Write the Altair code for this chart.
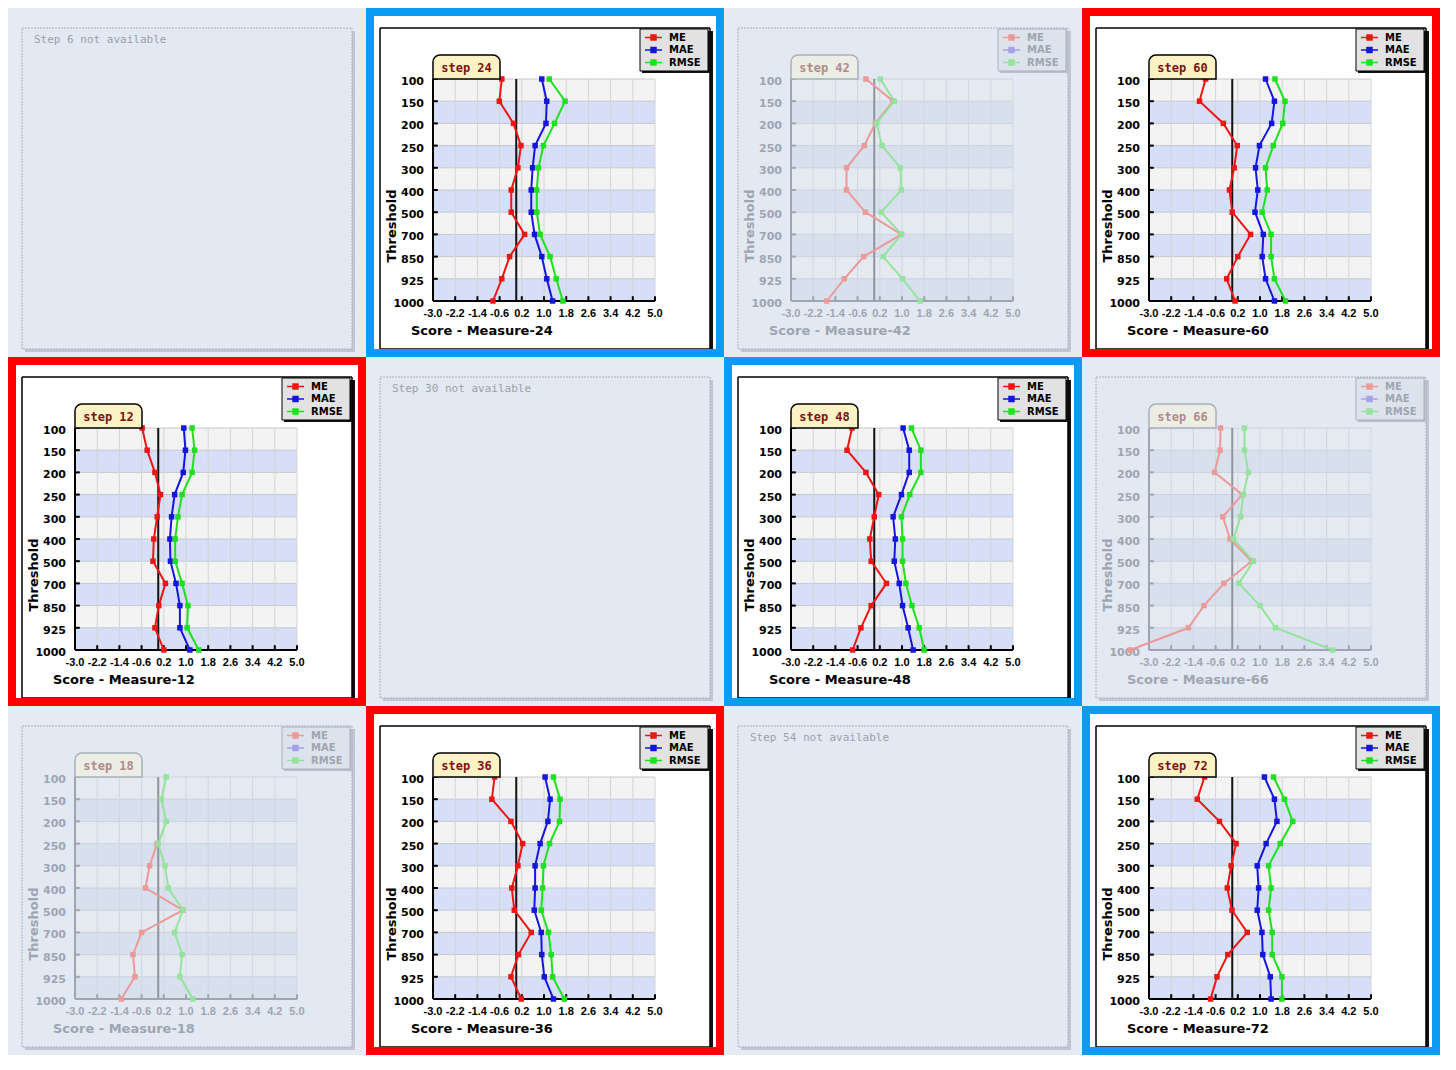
import altair as alt
import pandas as pd

# ---------------- data ----------------
THRESHOLDS = ["100", "150", "200", "250", "300", "400", "500", "700", "850", "925", "1000"]
X_TICKS = [-3.0, -2.2, -1.4, -0.6, 0.2, 1.0, 1.8, 2.6, 3.4, 4.2, 5.0]
X_DOMAIN = [-3.0, 5.0]
MEASURES = ["ME", "MAE", "RMSE"]

ME_12 = [-0.58, -0.40, -0.12, 0.08, -0.04, -0.16, -0.19, 0.26, 0.02, -0.12, 0.20]
MAE_12 = [0.92, 0.98, 0.90, 0.59, 0.48, 0.42, 0.44, 0.64, 0.78, 0.78, 1.14]
RMSE_12 = [1.22, 1.31, 1.22, 0.86, 0.71, 0.61, 0.61, 0.86, 1.07, 1.04, 1.46]

ME_18 = [None, None, None, -0.04, -0.31, -0.46, 0.89, -0.60, -0.91, -0.84, -1.33]
RMSE_18 = [0.29, 0.11, 0.29, 0.00, 0.24, 0.36, 0.89, 0.59, 0.86, 0.78, 1.25]

ME_24 = [-0.52, -0.61, -0.10, 0.17, 0.06, -0.18, -0.18, 0.30, -0.24, -0.52, -0.84]
MAE_24 = [0.92, 1.10, 1.07, 0.68, 0.59, 0.54, 0.54, 0.66, 0.92, 1.10, 1.31]
RMSE_24 = [1.19, 1.76, 1.38, 0.98, 0.80, 0.74, 0.74, 0.86, 1.22, 1.44, 1.68]

ME_36 = [-0.78, -0.88, -0.19, 0.23, 0.06, -0.16, -0.07, 0.54, 0.08, -0.19, 0.18]
MAE_36 = [1.04, 1.22, 1.14, 0.86, 0.68, 0.68, 0.65, 0.90, 0.92, 1.01, 1.34]
RMSE_36 = [1.34, 1.58, 1.56, 1.20, 0.98, 0.95, 0.90, 1.16, 1.26, 1.31, 1.73]

ME_42 = [-0.30, 0.68, 0.04, -0.36, -1.00, -1.00, -0.32, 0.98, -0.38, -1.08, -1.71]
RMSE_42 = [0.22, 0.72, 0.08, 0.28, 0.94, 0.98, 0.25, 0.98, 0.32, 1.02, 1.65]

ME_48 = [-0.80, -0.98, -0.30, 0.16, 0.00, -0.16, -0.11, 0.44, -0.11, -0.48, -0.78]
MAE_48 = [1.04, 1.26, 1.26, 0.98, 0.68, 0.76, 0.72, 0.90, 1.02, 1.22, 1.40]
RMSE_48 = [1.34, 1.68, 1.68, 1.28, 0.98, 1.02, 1.02, 1.14, 1.36, 1.62, 1.80]

ME_60 = [-0.96, -1.18, -0.32, 0.18, 0.07, -0.10, 0.00, 0.66, 0.20, -0.20, 0.10]
MAE_60 = [1.20, 1.52, 1.42, 0.98, 0.84, 0.92, 0.82, 1.12, 1.08, 1.20, 1.52]
RMSE_60 = [1.54, 1.90, 1.82, 1.48, 1.20, 1.26, 1.08, 1.40, 1.40, 1.52, 1.92]

ME_66 = [-0.42, -0.44, -0.64, 0.36, -0.34, -0.08, 0.70, -0.30, -1.02, -1.58, -3.68]
RMSE_66 = [0.44, 0.44, 0.58, 0.40, 0.30, 0.04, 0.76, 0.24, 1.00, 1.56, 3.62]

ME_72 = [-1.00, -1.26, -0.46, 0.14, -0.04, -0.18, -0.01, 0.54, -0.16, -0.55, -0.78]
MAE_72 = [1.16, 1.52, 1.61, 1.22, 0.90, 0.95, 0.90, 1.07, 1.10, 1.37, 1.40]
RMSE_72 = [1.49, 1.88, 2.18, 1.73, 1.31, 1.40, 1.31, 1.44, 1.44, 1.79, 1.79]

SERIES = {
    12: (ME_12, MAE_12, RMSE_12),
    18: (ME_18, None, RMSE_18),
    24: (ME_24, MAE_24, RMSE_24),
    36: (ME_36, MAE_36, RMSE_36),
    42: (ME_42, None, RMSE_42),
    48: (ME_48, MAE_48, RMSE_48),
    60: (ME_60, MAE_60, RMSE_60),
    66: (ME_66, None, RMSE_66),
    72: (ME_72, MAE_72, RMSE_72),
}

BLUE = "#0a9bf5"
RED = "#ff0000"
# (step, state, frame colour) in reading order, 4 per row
LAYOUT = [
    (6, "na", None), (24, "on", BLUE), (42, "faded", None), (60, "on", RED),
    (12, "on", RED), (30, "na", None), (48, "on", BLUE), (66, "faded", None),
    (18, "faded", None), (36, "on", RED), (54, "na", None), (72, "on", BLUE),
]

# ---------------- geometry / style ----------------
W, H = 358, 349
CX0, CY0, CX1, CY1 = 14, 20, 344, 341
XR = [CX0 + 53, CX0 + 275]
YR = [CY0 + 51, CY0 + 273]
FONT = "DejaVu Sans"
NARROW = "Liberation Sans"
MONO = "DejaVu Sans Mono"
ONE = pd.DataFrame({"k": [0]})

ON = dict(cell="#ffffff", card="#ffffff", card_stroke="#000000", shadow="#111111",
          ink="#000000", tab_fill="#fdf2c4", tab_stroke="#000000", tab_text="#7a1212",
          bands=["#f3f3f3", "#d6dff7"], edge="#c4c8d0", grid="#d2d4d8", zero="#111111",
          colors=["#ee1515", "#1515dd", "#1ee01e"], leg_fill="#e2e2e2", leg_stroke="#000000",
          leg_shadow="#111111", dash=[1, 0])
FADED = dict(cell="#e5ebf4", card="#e3e9f3", card_stroke="#a9b0bb", shadow="#c0c7d2",
             ink="#9ea5b0", tab_fill="#eceee6", tab_stroke="#a9b0bb", tab_text="#b08a8a",
             bands=["#e5e9f0", "#d8e0ee"], edge="#cbd2dd", grid="#d0d7e2", zero="#8f949c",
             colors=["#eb9a9a", "#a3a3ec", "#95e39e"], leg_fill="#dde3ec", leg_stroke="#a9b0bb",
             leg_shadow="#b9c0cb", dash=[2, 1])


def rect_px(x0, y0, x1, y1, **kw):
    return alt.Chart(ONE).mark_rect(**kw).encode(
        x=alt.value(x0), x2=alt.value(x1), y=alt.value(y0), y2=alt.value(y1))


def text_px(x, y, s, **kw):
    return alt.Chart(ONE).mark_text(text=s, **kw).encode(x=alt.value(x), y=alt.value(y))


def legend_layers(th):
    lx0, ly0 = CX1 - 70, CY0 + 1
    out = [rect_px(lx0 + 2, ly0 + 2, lx0 + 70, ly0 + 44, fill=th["leg_shadow"], strokeWidth=0),
           rect_px(lx0, ly0, lx0 + 68, ly0 + 42, fill=th["leg_fill"],
                   stroke=th["leg_stroke"], strokeWidth=1)]
    for i, (name, col) in enumerate(zip(MEASURES, th["colors"])):
        yy = ly0 + 8.5 + i * 12.5
        out.append(alt.Chart(ONE).mark_rule(color=col, strokeWidth=1.5).encode(
            x=alt.value(lx0 + 5), x2=alt.value(lx0 + 22), y=alt.value(yy)))
        out.append(alt.Chart(ONE).mark_square(color=col, size=42, opacity=1).encode(
            x=alt.value(lx0 + 13.5), y=alt.value(yy)))
        out.append(text_px(lx0 + 29, yy, name, font=FONT, fontSize=10, fontWeight="bold",
                           color=th["ink"], align="left", baseline="middle"))
    return out


def data_layers(step, th):
    me, mae, rmse = SERIES[step]
    rows = []
    for name, vals in zip(MEASURES, (me, mae, rmse)):
        if vals is None:
            continue
        for i, (t, v) in enumerate(zip(THRESHOLDS, vals)):
            if v is None:
                continue
            rows.append({"measure": name, "threshold": t, "idx": i, "value": v})
    df = pd.DataFrame(rows)
    ink = th["ink"]

    xs = alt.Scale(domain=X_DOMAIN, range=XR, nice=False, zero=False)
    ys = alt.Scale(type="point", domain=THRESHOLDS, range=YR, padding=0)
    cs = alt.Scale(domain=MEASURES, range=th["colors"])

    def X(f):
        return alt.X(f, scale=xs, axis=None)

    def Y(f):
        return alt.Y(f, scale=ys, axis=None, sort=THRESHOLDS)

    bands = pd.DataFrame({
        "top": THRESHOLDS[:-1], "bot": THRESHOLDS[1:],
        "fill": [th["bands"][i % 2] for i in range(len(THRESHOLDS) - 1)],
        "x0": X_DOMAIN[0], "x1": X_DOMAIN[1]})
    band_layer = alt.Chart(bands).mark_rect(strokeWidth=0).encode(
        x=X("x0:Q"), x2="x1", y=Y("top:O"), y2="bot",
        fill=alt.Fill("fill:N", scale=None))

    edges = pd.DataFrame({"t": THRESHOLDS, "x0": X_DOMAIN[0], "x1": X_DOMAIN[1]})
    edge_layer = alt.Chart(edges).mark_rule(color=th["edge"], strokeWidth=1).encode(
        x=X("x0:Q"), x2="x1", y=Y("t:O"))

    gx = pd.DataFrame({"x": X_TICKS, "y0": THRESHOLDS[0], "y1": THRESHOLDS[-1]})
    grid_layer = alt.Chart(gx).mark_rule(color=th["grid"], strokeWidth=1).encode(
        x=X("x:Q"), y=Y("y0:O"), y2="y1")

    zero = pd.DataFrame({"x": [0.0], "y0": [THRESHOLDS[0]], "y1": [THRESHOLDS[-1]]})
    zero_layer = alt.Chart(zero).mark_rule(color=th["zero"], strokeWidth=2).encode(
        x=X("x:Q"), y=Y("y0:O"), y2="y1")

    # axis lines (domain)
    xdom = pd.DataFrame({"x0": [X_DOMAIN[0]], "x1": [X_DOMAIN[1]], "y": [THRESHOLDS[-1]]})
    xdom_layer = alt.Chart(xdom).mark_rule(color=ink, strokeWidth=2).encode(
        x=X("x0:Q"), x2="x1", y=Y("y:O"))
    ydom = pd.DataFrame({"x": [X_DOMAIN[0]], "y0": [THRESHOLDS[0]], "y1": [THRESHOLDS[-1]]})
    ydom_layer = alt.Chart(ydom).mark_rule(color=ink, strokeWidth=2).encode(
        x=X("x:Q"), y=Y("y0:O"), y2="y1")

    # inward tick marks
    xt = pd.DataFrame({"x": X_TICKS, "y": THRESHOLDS[-1],
                       "label": [f"{v:.1f}" for v in X_TICKS]})
    xtick_layer = alt.Chart(xt).mark_point(
        shape="M0,0V-1.6", size=36, filled=False, strokeWidth=2, opacity=1, color=ink).encode(
        x=X("x:Q"), y=Y("y:O"))
    yt = pd.DataFrame({"x": X_DOMAIN[0], "y": THRESHOLDS})
    ytick_layer = alt.Chart(yt).mark_point(
        shape="M0,0H1.6", size=36, filled=False, strokeWidth=2, opacity=1, color=ink).encode(
        x=X("x:Q"), y=Y("y:O"))

    # tick labels
    xlab_layer = alt.Chart(xt).mark_text(
        dy=13, font=NARROW, fontSize=11, fontWeight="bold", color=ink,
        align="center", baseline="middle").encode(x=X("x:Q"), y=Y("y:O"), text="label:N")
    ylab_layer = alt.Chart(yt).mark_text(
        dx=-9, dy=3, font=FONT, fontSize=11, fontWeight="bold", color=ink,
        align="right", baseline="middle").encode(x=X("x:Q"), y=Y("y:O"), text="y:N")

    # axis titles
    xtitle = text_px(CX0 + 31, CY0 + 303, f"Score - Measure-{step}", font=FONT, fontSize=13,
                     fontWeight="bold", color=ink, align="left", baseline="middle")
    ytitle = text_px(CX0 + 12, CY0 + 198, "Threshold", font=FONT, fontSize=13,
                     fontWeight="bold", color=ink, align="center", baseline="middle", angle=270)

    line_layer = alt.Chart(df).mark_line(strokeWidth=2).encode(
        x=X("value:Q"), y=Y("threshold:O"),
        color=alt.Color("measure:N", scale=cs, legend=None),
        order=alt.Order("idx:Q"))
    point_layer = alt.Chart(df).mark_square(size=30, opacity=1, filled=True).encode(
        x=X("value:Q"), y=Y("threshold:O"),
        color=alt.Color("measure:N", scale=cs, legend=None))

    tab_x0, tab_x1 = XR[0], XR[0] + 67
    tab = rect_px(tab_x0, YR[0] - 24, tab_x1, YR[0], fill=th["tab_fill"],
                  stroke=th["tab_stroke"], strokeWidth=1.5,
                  cornerRadiusTopLeft=7, cornerRadiusTopRight=7)
    tab_text = text_px((tab_x0 + tab_x1) / 2, YR[0] - 11.5, f"step {step}", font=MONO,
                       fontSize=12, fontWeight="bold", color=th["tab_text"],
                       align="center", baseline="middle")

    return ([band_layer, edge_layer, grid_layer, zero_layer, xdom_layer, ydom_layer,
             xtick_layer, ytick_layer, xlab_layer, ylab_layer, xtitle, ytitle,
             line_layer, point_layer, tab, tab_text] + legend_layers(th))


def make_panel(step, state, frame):
    th = ON if state == "on" else FADED
    layers = [rect_px(0, 0, W, H, fill=th["cell"], strokeWidth=0)]
    layers.append(rect_px(CX0 + 3, CY0 + 3, CX1 + 3, CY1 + 3, fill=th["shadow"], strokeWidth=0))
    layers.append(rect_px(CX0, CY0, CX1, CY1, fill=th["card"], stroke=th["card_stroke"],
                          strokeWidth=1.5 if state == "on" else 1, strokeDash=th["dash"]))
    if state == "na":
        layers.append(text_px(CX0 + 12, CY0 + 12, f"Step {step} not available", font=MONO,
                              fontSize=11, color="#9aa0a8", align="left", baseline="middle"))
    else:
        layers += data_layers(step, th)
    if frame:
        layers.append(rect_px(4, 4, W - 4, H - 4, fill="#ffffff", fillOpacity=0,
                              stroke=frame, strokeWidth=8))
    return alt.layer(*layers).properties(width=W, height=H)


cells = [make_panel(*spec) for spec in LAYOUT]
chart = (
    alt.concat(*cells, columns=4, spacing=0)
    .resolve_scale(x="independent", y="independent", color="independent")
    .properties(padding=0, bounds="flush")
    .configure_view(strokeWidth=0)
)
chart.save("out.html", embed_options={"renderer": "svg", "actions": False})
